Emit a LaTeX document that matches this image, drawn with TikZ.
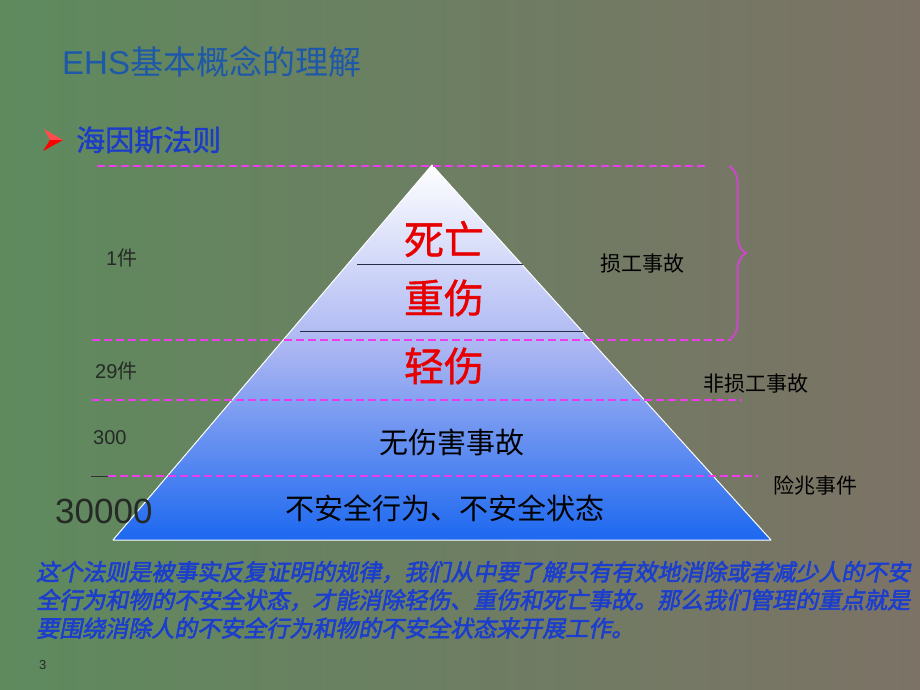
\documentclass[tikz,border=0pt]{standalone}
\usepackage{fontspec}
\setmainfont{Noto Sans CJK SC}
\newfontfamily\latinfont{Liberation Sans}
\newfontfamily\cjkpara[FakeSlant=0.2,FakeBold=2.5]{Noto Sans CJK SC}
\newfontfamily\cjkbold[FakeBold=1]{Noto Sans CJK SC}
\usetikzlibrary{decorations.pathreplacing,shadings}
\definecolor{bgL}{RGB}{94,138,94}
\definecolor{bgR}{RGB}{124,114,102}
\definecolor{pyrM}{RGB}{168,180,242}
\definecolor{pyrB}{RGB}{28,104,240}
\definecolor{titleblue}{RGB}{30,88,168}
\definecolor{headblue}{RGB}{26,60,200}
\definecolor{parablue}{RGB}{28,62,205}
\definecolor{dashmag}{RGB}{236,60,236}
\definecolor{bracemag}{RGB}{200,74,200}
\definecolor{divline}{RGB}{40,42,70}
\definecolor{tierred}{RGB}{232,0,0}
\definecolor{lblgray}{RGB}{38,42,38}
\begin{document}
\begin{tikzpicture}[x=1pt,y=-1pt,
  dashln/.style={dashmag,line width=2.8pt,dash pattern=on 8pt off 4pt},
  divln/.style={divline,line width=1pt},
  redtier/.style={text=tierred,font=\cjkbold\fontsize{40}{40}\selectfont,inner sep=0pt},
  blacktier/.style={text=black,font=\fontsize{29}{29}\selectfont,inner sep=0pt},
  leftlbl/.style={anchor=west,text=lblgray,font=\latinfont\fontsize{20}{20}\selectfont,inner sep=0pt},
  rightlbl/.style={anchor=west,text=black,font=\fontsize{21}{21}\selectfont,inner sep=0pt},
  paraline/.style={anchor=west,text=parablue,font=\cjkpara\fontsize{23}{23}\selectfont,inner sep=0pt}]
\useasboundingbox (0,0) rectangle (920,690);
\shade[left color=bgL,right color=bgR] (0,0) rectangle (920,690);

% title and heading
\node[anchor=west,inner sep=0pt,text=titleblue,font=\fontsize{33}{33}\selectfont] (title) at (62,62) {{\latinfont EHS}基本概念的理解};
\fill[red!70!white] (44,129) -- (63,140) -- (50,140) -- cycle;
\fill[red] (50,140) -- (63,140) -- (43,151) -- cycle;
\node[anchor=west,inner sep=0pt,text=headblue,font=\cjkbold\fontsize{29}{29}\selectfont] (head) at (76,140) {海因斯法则};

% pyramid
\coordinate (apex) at (432,165);
\coordinate (bl) at (113,540);
\coordinate (br) at (771,540);
\shade[top color=white,bottom color=pyrB,middle color=pyrM] (apex) -- (bl) -- (br) -- cycle;
\draw[white,line width=1pt,line join=round] (apex) -- (bl) -- (br) -- cycle;

% dividers
\coordinate (a1) at (357,264); \coordinate (a2) at (523,264);
\coordinate (b1) at (300,331); \coordinate (b2) at (583,331);
\draw[divln] (a1) -- (a2);
\draw[divln] (b1) -- (b2);

% dashed guide lines
\coordinate (d1l) at (97,166);  \coordinate (d1r) at (705,166);
\coordinate (d2l) at (92,340);  \coordinate (d2r) at (731,340);
\coordinate (d3l) at (92,400);  \coordinate (d3r) at (742,400);
\coordinate (d4s) at (91,476);  \coordinate (d4l) at (108,476); \coordinate (d4r) at (758,476);
\draw[dashln] (d1l) -- (d1r);
\draw[dashln] (d2l) -- (d2r);
\draw[dashln] (d3l) -- (d3r);
\draw[black!80,line width=1pt] (d4s) -- (d4l);
\draw[dashln] (d4l) -- (d4r);

% brace
\coordinate (brt) at (729,166);
\coordinate (brb) at (729,340);
\draw[bracemag,line width=2pt,decorate,decoration={brace,amplitude=17pt}] (brt) -- (brb);

% tier texts
\node[redtier] (t1) at (444,239) {死亡};
\node[redtier] (t2) at (444,298) {重伤};
\node[redtier] (t3) at (444,366) {轻伤};
\node[blacktier] (t4) at (452,442) {无伤害事故};
\node[blacktier] (t5) at (445,508) {不安全行为、不安全状态};

% left labels
\node[leftlbl] (n1) at (106,258) {1\fontspec{Noto Sans CJK SC}件};
\node[leftlbl] (n29) at (95,371) {29\fontspec{Noto Sans CJK SC}件};
\node[leftlbl] (n300) at (93,438) {300};
\node[leftlbl,font=\latinfont\fontsize{35}{35}\selectfont] (n30000) at (55,511) {30000};

% right labels
\node[rightlbl] (r1) at (600,264) {损工事故};
\node[rightlbl] (r2) at (703,384) {非损工事故};
\node[rightlbl] (r3) at (773,486) {险兆事件};

% paragraph
\node[paraline] (p1) at (36,572) {这个法则是被事实反复证明的规律，我们从中要了解只有有效地消除或者减少人的不安};
\node[paraline] (p2) at (36,600) {全行为和物的不安全状态，才能消除轻伤、重伤和死亡事故。那么我们管理的重点就是};
\node[paraline] (p3) at (36,628) {要围绕消除人的不安全行为和物的不安全状态来开展工作。};

\node[anchor=west,inner sep=0pt,text=lblgray,font=\latinfont\fontsize{13}{13}\selectfont] (pg) at (39,665) {3};
\end{tikzpicture}
\end{document}
